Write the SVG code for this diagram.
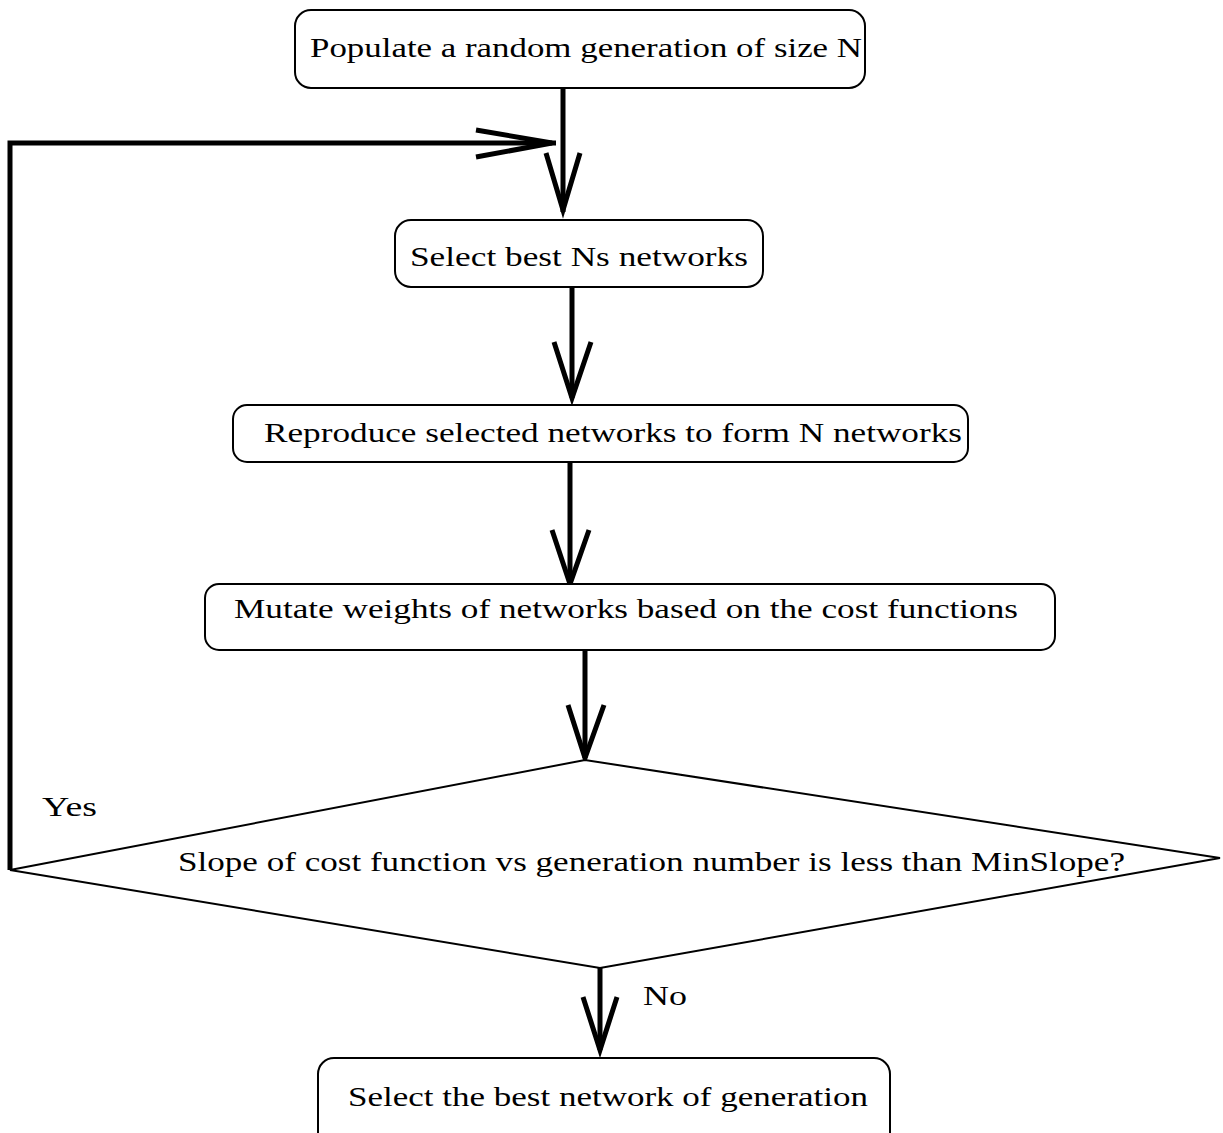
<svg xmlns="http://www.w3.org/2000/svg" width="1223" height="1133" viewBox="0 0 1223 1133">
<style>
.box{fill:#fff;stroke:#000;stroke-width:2}
.t{font-family:"Liberation Serif","DejaVu Serif",serif;font-size:28px;fill:#000}
.ln{fill:none;stroke:#000;stroke-width:5}
.ah{fill:none;stroke:#000;stroke-width:5;stroke-linejoin:miter}
</style>
<rect width="1223" height="1133" fill="#fff"/>
<g id="connectors">
<line class="ln" x1="563" y1="88" x2="563" y2="212"/>
<polyline class="ah" points="546,153 563,210 580,153"/>
<polyline class="ln" points="10,870 10,143 556,143"/>
<polyline class="ah" points="476,130 552,143 476,157"/>
<line class="ln" x1="572" y1="287" x2="572" y2="398"/>
<polyline class="ah" points="554,342 572,398 591,342"/>
<line class="ln" x1="570" y1="462" x2="570" y2="584"/>
<polyline class="ah" points="552,530 570,584 589,530"/>
<line class="ln" x1="585" y1="650" x2="585" y2="758"/>
<polyline class="ah" points="568,705 585,758 604,705"/>
<line class="ln" x1="600" y1="968" x2="600" y2="1050"/>
<polyline class="ah" points="583,997 600,1050 617,997"/>
</g>
<g id="n1"><rect class="box" x="295" y="10" width="570" height="78" rx="16"/>
<text class="t" x="310" y="57" textLength="552" lengthAdjust="spacingAndGlyphs">Populate a random generation of size N</text></g>
<g id="n2"><rect class="box" x="395" y="220" width="368" height="67" rx="16"/>
<text class="t" x="410" y="266" textLength="338" lengthAdjust="spacingAndGlyphs">Select best Ns networks</text></g>
<g id="n3"><rect class="box" x="233" y="405" width="735" height="57" rx="14"/>
<text class="t" x="264" y="442" textLength="698" lengthAdjust="spacingAndGlyphs">Reproduce selected networks to form N networks</text></g>
<g id="n4"><rect class="box" x="205" y="584" width="850" height="66" rx="14"/>
<text class="t" x="234" y="618" textLength="784" lengthAdjust="spacingAndGlyphs">Mutate weights of networks based on the cost functions</text></g>
<g id="n5"><polygon class="box" points="10,870 585,760 1220,858 600,968"/>
<text class="t" x="178" y="871" textLength="947" lengthAdjust="spacingAndGlyphs">Slope of cost function vs generation number is less than MinSlope?</text></g>
<g id="n6"><rect class="box" x="318" y="1058" width="572" height="90" rx="16"/>
<text class="t" x="348" y="1106" textLength="520" lengthAdjust="spacingAndGlyphs">Select the best network of generation</text></g>
<g id="labels">
<text class="t" x="42" y="816" textLength="55" lengthAdjust="spacingAndGlyphs">Yes</text>
<text class="t" x="643" y="1005" textLength="44" lengthAdjust="spacingAndGlyphs">No</text>
</g>
</svg>
